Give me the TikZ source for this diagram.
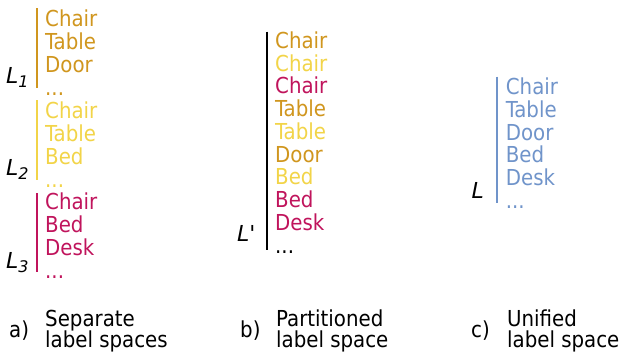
\documentclass[tikz,border=0pt]{standalone}
\usepackage{fontspec}
\setmainfont{DejaVu Sans Condensed}
\newfontfamily\labfont{DejaVu Sans}
\definecolor{cgold}{RGB}{208,150,30}
\definecolor{cyel}{RGB}{242,212,72}
\definecolor{cmag}{RGB}{192,20,92}
\definecolor{cblue}{RGB}{112,148,202}
\newcommand\mydots{...}
\tikzset{
  item/.style={anchor=base west, inner sep=0pt, font=\fontsize{22}{23}\selectfont},
  lab/.style={anchor=base west, inner sep=0pt, font=\labfont\fontsize{22}{23}\selectfont\itshape},
  captext/.style={anchor=base west, inner sep=0pt, font=\fontsize{22}{21}\selectfont},
  bar/.style={line width=2.2pt}
}
\begin{document}
\begin{tikzpicture}[x=1pt,y=-1pt]
\useasboundingbox (0,0) rectangle (622,354);
% column a
\foreach \t/\c [count=\k from 0] in {Chair/cgold,Table/cgold,Door/cgold,\mydots/cgold,Chair/cyel,Table/cyel,Bed/cyel,\mydots/cyel,Chair/cmag,Bed/cmag,Desk/cmag,\mydots/cmag}
  \node[item, text=\c] (a\k) at (45,26.7+22.9*\k) {\t};
\coordinate (a1t) at (36.7,8); \coordinate (a1b) at (36.7,88);
\coordinate (a2t) at (36.7,100); \coordinate (a2b) at (36.7,180);
\coordinate (a3t) at (36.7,193); \coordinate (a3b) at (36.7,272);
\draw[bar, cgold] (a1t) -- (a1b);
\draw[bar, cyel] (a2t) -- (a2b);
\draw[bar, cmag] (a3t) -- (a3b);
\node[lab] (L1) at (6,83) {L{\fontsize{16}{16}\selectfont\raisebox{-4pt}{1}}};
\node[lab] (L2) at (6,175) {L{\fontsize{16}{16}\selectfont\raisebox{-4pt}{2}}};
\node[lab] (L3) at (6,268) {L{\fontsize{16}{16}\selectfont\raisebox{-4pt}{3}}};
% column b
\foreach \t/\c [count=\k from 0] in {Chair/cgold,Chair/cyel,Chair/cmag,Table/cgold,Table/cyel,Door/cgold,Bed/cyel,Bed/cmag,Desk/cmag,\mydots/black}
  \node[item, text=\c] (b\k) at (275,48.4+22.75*\k) {\t};
\coordinate (bt) at (266.7,31.7); \coordinate (bb) at (266.7,250);
\draw[bar, black] (bt) -- (bb);
\node[lab] (Lp) at (237,241.7) {L\textquotesingle};
% column c
\foreach \t [count=\k from 0] in {Chair,Table,Door,Bed,Desk,\mydots}
  \node[item, text=cblue] (c\k) at (505.7,94.5+22.8*\k) {\t};
\coordinate (ct) at (497.3,76.7); \coordinate (cb) at (497.3,203);
\draw[bar, cblue] (ct) -- (cb);
\node[lab] (Lc) at (471.5,198) {L};
% captions
\node[captext] (capa) at (9,337) {a)};
\node[captext] (capa1) at (45,326) {Separate};
\node[captext] (capa2) at (45,347) {label spaces};
\node[captext] (capb) at (240,337) {b)};
\node[captext] (capb1) at (276,326) {Partitioned};
\node[captext] (capb2) at (276,347) {label space};
\node[captext] (capc) at (471,337) {c)};
\node[captext] (capc1) at (507,326) {Unified};
\node[captext] (capc2) at (507,347) {label space};
\end{tikzpicture}
\end{document}
